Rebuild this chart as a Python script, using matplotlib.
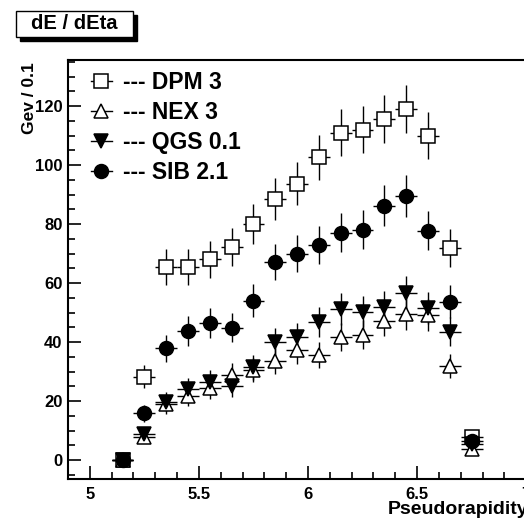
import matplotlib
matplotlib.use("Agg")
import matplotlib.pyplot as plt
from matplotlib.lines import Line2D
from matplotlib.patches import Rectangle
from matplotlib.ticker import MultipleLocator

plt.rcParams['font.family'] = ['Liberation Sans', 'DejaVu Sans']
plt.rcParams['font.weight'] = 'bold'

# bin centres in pseudorapidity
eta = [5.15, 5.25, 5.35, 5.45, 5.55, 5.65, 5.75, 5.85, 5.95,
       6.05, 6.15, 6.25, 6.35, 6.45, 6.55, 6.65, 6.75]
eta_err = [0.05] * len(eta)

dpm = [0, 28.3, 65.4, 65.3, 68.0, 72.1, 80.0, 88.4, 93.6,
       102.6, 111.0, 112.0, 115.5, 118.9, 110.0, 71.8, 7.8]
dpm_err = [0, 4.0, 6.1, 6.1, 6.2, 6.4, 6.7, 7.1, 7.3,
           7.6, 7.9, 7.9, 8.1, 8.2, 7.9, 6.4, 2.1]

nex = [0, 7.9, 19.0, 21.7, 24.3, 28.8, 30.5, 33.6, 37.3,
       35.6, 41.6, 42.4, 47.2, 49.4, 49.2, 31.9, 3.7]
nex_err = [0, 2.1, 3.3, 3.5, 3.7, 4.0, 4.1, 4.3, 4.6,
           4.5, 4.8, 4.9, 5.2, 5.3, 5.3, 4.2, 1.4]

qgs = [0, 8.8, 19.8, 24.0, 26.5, 25.0, 31.4, 40.1, 41.8,
       46.9, 51.1, 50.3, 52.0, 56.7, 51.4, 43.5, 5.5]
qgs_err = [0, 2.2, 3.3, 3.7, 3.9, 3.8, 4.2, 4.7, 4.8,
           5.1, 5.4, 5.3, 5.4, 5.6, 5.4, 4.9, 1.8]

sib = [0, 15.8, 37.9, 43.8, 46.5, 44.9, 54.0, 67.2, 70.0,
       72.9, 77.1, 78.0, 86.2, 89.6, 77.7, 53.7, 6.5]
sib_err = [0, 3.0, 4.6, 5.0, 5.1, 5.0, 5.5, 6.1, 6.3,
           6.4, 6.6, 6.6, 7.0, 7.1, 6.6, 5.5, 1.9]

labels = ["--- DPM 3", "--- NEX 3", "--- QGS 0.1", "--- SIB 2.1"]

W, H = 524, 522
fig = plt.figure(figsize=(W / 100, H / 100), dpi=100)
ax = fig.add_axes([68 / W, 43 / H, 480 / W, 419 / H])

series = [
    (dpm, dpm_err, 's', 'white'),
    (nex, nex_err, '^', 'white'),
    (qgs, qgs_err, 'v', 'black'),
    (sib, sib_err, 'o', 'black'),
]
handles = []
for (vals, errs, mk, face), lab in zip(series, labels):
    ax.errorbar(eta, vals, xerr=eta_err, yerr=errs, fmt=mk, ms=10,
                mfc=face, mec='black', mew=1.1, ecolor='black',
                elinewidth=1.0, capsize=0)
    handles.append(Line2D([], [], color='black', lw=1.0, marker=mk, ms=10,
                          mfc=face, mec='black', mew=1.1))

ax.set_xlim(4.9, 7.1)
ax.set_ylim(-6.44, 135.6)
ax.xaxis.set_major_locator(MultipleLocator(0.5))
ax.xaxis.set_minor_locator(MultipleLocator(0.1))
ax.yaxis.set_major_locator(MultipleLocator(20))
ax.yaxis.set_minor_locator(MultipleLocator(5))
ax.xaxis.set_major_formatter(plt.FuncFormatter(lambda v, p: f"{v:g}"))
ax.tick_params(which='both', direction='in', top=False, right=False,
               width=1.2, labelsize=12)
ax.tick_params(which='major', length=9.4)
ax.tick_params(which='minor', length=5)
ax.tick_params(axis='y', pad=4)
ax.tick_params(axis='x', pad=6)
for s in ax.spines.values():
    s.set_linewidth(1.5)

ax.legend(handles, labels, loc='upper left', frameon=False,
          bbox_to_anchor=(91 / W, 1 - 71 / H), bbox_transform=fig.transFigure,
          borderpad=0, borderaxespad=0, handlelength=0.9,
          handletextpad=0.5, labelspacing=0.3,
          prop={'size': 16.5, 'weight': 'bold'})

fig.text(388 / W, 1 - 510 / H, "Pseudorapidity", ha='left', va='center',
         fontsize=14, fontweight='bold')
fig.text(29 / W, 1 - 62 / H, "Gev / 0.1", rotation=90, ha='center',
         va='top', fontsize=12.5, fontweight='bold')

# title box with drop shadow
fig.patches.append(Rectangle((20 / W, 1 - 41 / H), 117 / W, 26 / H,
                             transform=fig.transFigure, facecolor='black',
                             edgecolor='black', zorder=1))
fig.patches.append(Rectangle((16 / W, 1 - 37 / H), 117 / W, 26 / H,
                             transform=fig.transFigure, facecolor='white',
                             edgecolor='black', lw=1.0, zorder=2))
fig.text(74.5 / W, 1 - 24 / H, "dE / dEta", ha='center', va='center',
         fontsize=14.5, fontweight='bold', zorder=3)

fig.savefig("out.png", dpi=100)
